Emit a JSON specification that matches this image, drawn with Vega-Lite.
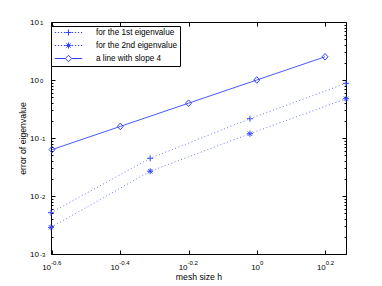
{
  "$schema": "https://vega.github.io/schema/vega-lite/v6.json",
  "width": 295,
  "height": 232,
  "autosize": {"type": "none"},
  "padding": {"left": 51, "top": 22, "right": 36, "bottom": 32},
  "background": "white",
  "config": {
    "view": {"stroke": null},
    "font": "Liberation Sans",
    "axis": {
      "grid": false,
      "domainColor": "black",
      "tickColor": "black",
      "labelColor": "black",
      "titleColor": "black",
      "labelFont": "Liberation Sans",
      "titleFont": "Liberation Sans",
      "titleFontWeight": "normal",
      "labelOverlap": false,
      "labelFlush": false,
      "labelBound": false,
      "domainWidth": 1,
      "tickWidth": 1
    }
  },
  "data": {
    "values": [
      {"series": "a line with slope 4", "h": 0.251189, "err": 0.0631},
      {"series": "a line with slope 4", "h": 0.398107, "err": 0.1585},
      {"series": "a line with slope 4", "h": 0.630957, "err": 0.3981},
      {"series": "a line with slope 4", "h": 1.0, "err": 1.0},
      {"series": "a line with slope 4", "h": 1.584893, "err": 2.512},
      {"series": "for the 1st eigenvalue", "h": 0.2494, "err": 0.00515},
      {"series": "for the 1st eigenvalue", "h": 0.487, "err": 0.0447},
      {"series": "for the 1st eigenvalue", "h": 0.955, "err": 0.215},
      {"series": "for the 1st eigenvalue", "h": 1.826, "err": 0.877},
      {"series": "for the 2nd eigenvalue", "h": 0.2494, "err": 0.00288},
      {"series": "for the 2nd eigenvalue", "h": 0.487, "err": 0.0267},
      {"series": "for the 2nd eigenvalue", "h": 0.955, "err": 0.1186},
      {"series": "for the 2nd eigenvalue", "h": 1.826, "err": 0.476}
    ]
  },
  "layer": [
    {
      "transform": [{"filter": "datum.series === 'a line with slope 4'"}],
      "mark": {"type": "line", "color": "#4858ff", "strokeWidth": 1},
      "encoding": {
        "x": {
          "field": "h", "type": "quantitative",
          "scale": {"type": "log", "domain": [0.2494, 1.826], "nice": false},
          "axis": {
            "orient": "bottom",
            "values": [0.251189, 0.398107, 0.630957, 1, 1.584893],
            "labelExpr": "'10'",
            "labelAlign": "right",
            "labelBaseline": "middle",
            "labelFontSize": 8,
            "labelPadding": 17,
            "labelOffset": {"expr": "datum.value == 1 ? 2.8 : (datum.value > 1 ? 0.3 : -1.5)"},
            "tickSize": -4,
            "title": "mesh size h",
            "titleFontSize": 8.7,
            "titleY": 22,
            "titleBaseline": "middle"
          }
        },
        "y": {
          "field": "err", "type": "quantitative",
          "scale": {"type": "log", "domain": [0.001, 10], "nice": false},
          "axis": {
            "orient": "left",
            "values": [0.001, 0.002, 0.003, 0.004, 0.005, 0.006, 0.007, 0.008, 0.009, 0.01, 0.02, 0.03, 0.04, 0.05, 0.06, 0.07, 0.08, 0.09, 0.1, 0.2, 0.3, 0.4, 0.5, 0.6, 0.7, 0.8, 0.9, 1, 2, 3, 4, 5, 6, 7, 8, 9, 10],
            "labelExpr": "indexof([0.001, 0.01, 0.1, 1, 10], datum.value) >= 0 ? '10' : ''",
            "labelAlign": "right",
            "labelBaseline": "middle",
            "labelFontSize": 8,
            "labelPadding": 16.5,
            "tickSize": {"expr": "indexof([0.001, 0.01, 0.1, 1, 10], datum.value) >= 0 ? -4 : -2"},
            "title": "error of eigenvalue",
            "titleFontSize": 8.7,
            "titleX": -29,
            "titleY": 116,
            "titleAngle": -90,
            "titleAlign": "center",
            "titleBaseline": "middle"
          }
        }
      }
    },
    {
      "mark": {"type": "point", "filled": false, "strokeWidth": 1, "size": 36, "opacity": 1},
      "encoding": {
        "x": {
          "field": "h", "type": "quantitative",
          "scale": {"type": "log", "domain": [0.2494, 1.826], "nice": false},
          "axis": {
            "orient": "bottom",
            "values": [0.251189, 0.398107, 0.630957, 1, 1.584893],
            "labelExpr": "'' + round(log(datum.value) / LN10 * 10) / 10",
            "labelAlign": "left",
            "labelBaseline": "middle",
            "labelFontSize": 6,
            "labelPadding": 8.5,
            "labelOffset": {"expr": "datum.value == 1 ? 2.8 : (datum.value > 1 ? 0.3 : -1.5)"},
            "ticks": false,
            "domain": false,
            "title": null
          }
        },
        "y": {
          "field": "err", "type": "quantitative",
          "scale": {"type": "log", "domain": [0.001, 10], "nice": false},
          "axis": {
            "orient": "left",
            "values": [0.001, 0.01, 0.1, 1, 10],
            "labelExpr": "'' + round(log(datum.value) / LN10)",
            "labelAlign": "left",
            "labelBaseline": "middle",
            "labelFontSize": 6,
            "labelPadding": 11.5,
            "labelDy": -3.5,
            "ticks": false,
            "domain": false,
            "title": null
          }
        },
        "shape": {
          "field": "series", "type": "nominal",
          "scale": {
            "domain": ["a line with slope 4", "for the 1st eigenvalue", "for the 2nd eigenvalue"],
            "range": [
              "M0,-1.1L1,0L0,1.1L-1,0Z",
              "M-1,0H1M0,-1V1",
              "M-1,0H1M0,-1V1M-0.7,-0.7L0.7,0.7M-0.7,0.7L0.7,-0.7"
            ]
          },
          "legend": null
        },
        "color": {
          "field": "series", "type": "nominal",
          "scale": {
            "domain": ["for the 1st eigenvalue", "for the 2nd eigenvalue", "a line with slope 4"],
            "range": ["#3040ff", "#3040ff", "#3040ff"]
          },
          "legend": {
            "orient": "none",
            "legendX": 0,
            "legendY": 4,
            "title": null,
            "padding": 2,
            "strokeColor": "black",
            "fillColor": "white",
            "labelFont": "Liberation Sans",
            "labelFontSize": 8.2,
            "labelColor": "black",
            "symbolSize": 64,
            "symbolStrokeWidth": 1,
            "symbolFillColor": "transparent",
            "symbolOffset": 11,
            "labelOffset": 23,
            "rowPadding": 2,
            "symbolType": {"expr": "datum.value === 'for the 1st eigenvalue' ? 'M-3.4,0h0.3M-2.65,0h0.3M-1.9,0h0.3M-1.15,0h0.3M0.85,0h0.3M1.6,0h0.3M2.35,0h0.3M3.1,0h0.3M-0.75,0H0.75M0,-0.75V0.75' : (datum.value === 'for the 2nd eigenvalue' ? 'M-3.4,0h0.3M-2.65,0h0.3M-1.9,0h0.3M-1.15,0h0.3M0.85,0h0.3M1.6,0h0.3M2.35,0h0.3M3.1,0h0.3M-0.75,0H0.75M0,-0.75V0.75M-0.53,-0.53L0.53,0.53M-0.53,0.53L0.53,-0.53' : 'M-3.4,0H-0.8M0.8,0H3.4M0,-0.8L0.8,0L0,0.8L-0.8,0Z')"}
          }
        }
      }
    },
    {
      "transform": [{"filter": "datum.series !== 'a line with slope 4'"}],
      "mark": {"type": "line", "color": "#6a78ff", "strokeWidth": 1, "strokeDash": [1, 2.5]},
      "encoding": {
        "detail": {"field": "series", "type": "nominal"},
        "x": {
          "field": "h", "type": "quantitative",
          "scale": {"type": "log", "domain": [0.2494, 1.826], "nice": false},
          "axis": {
            "orient": "top",
            "values": [0.251189, 0.398107, 0.630957, 1, 1.584893],
            "labels": false,
            "tickSize": -4,
            "title": null
          }
        },
        "y": {
          "field": "err", "type": "quantitative",
          "scale": {"type": "log", "domain": [0.001, 10], "nice": false},
          "axis": {
            "orient": "right",
            "values": [0.001, 0.002, 0.003, 0.004, 0.005, 0.006, 0.007, 0.008, 0.009, 0.01, 0.02, 0.03, 0.04, 0.05, 0.06, 0.07, 0.08, 0.09, 0.1, 0.2, 0.3, 0.4, 0.5, 0.6, 0.7, 0.8, 0.9, 1, 2, 3, 4, 5, 6, 7, 8, 9, 10],
            "labels": false,
            "tickSize": {"expr": "indexof([0.001, 0.01, 0.1, 1, 10], datum.value) >= 0 ? -4 : -2"},
            "title": null
          }
        }
      }
    }
  ],
  "resolve": {"axis": {"x": "independent", "y": "independent"}}
}
